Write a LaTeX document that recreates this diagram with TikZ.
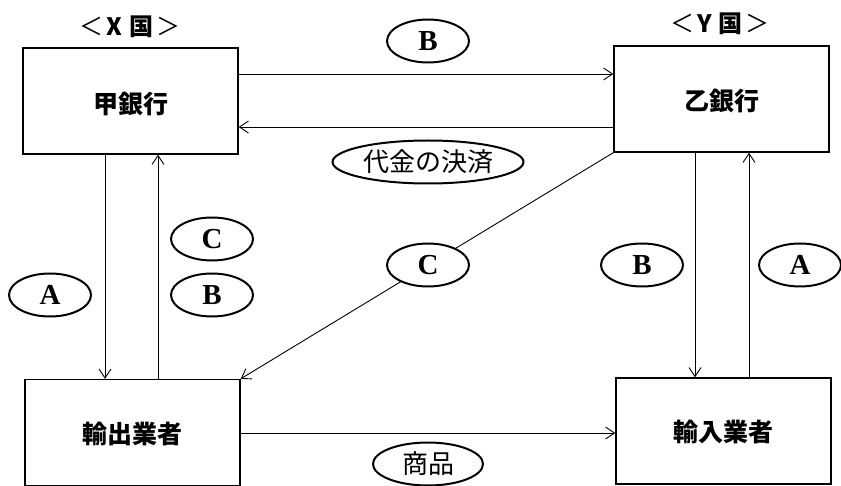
\documentclass[tikz,border=0pt]{standalone}
\usepackage{fontspec}
\usetikzlibrary{arrows.meta,shapes.geometric}
\newfontfamily\gothic{Noto Sans CJK JP}
\newfontfamily\mincho{Noto Sans CJK JP}
\newfontfamily\serifL{Liberation Serif}
\tikzset{
  box/.style={draw, line width=1.3pt, minimum width=215pt, minimum height=106pt, inner sep=0pt},
  boxtext/.style={font=\gothic\bfseries\fontsize{25}{25}\selectfont},
  oval/.style={draw, ellipse, line width=2pt, fill=white, inner sep=0pt},
  letteroval/.style={oval, minimum width=82pt, minimum height=43pt, font=\serifL\bfseries\fontsize{29}{29}\selectfont},
  wordoval/.style={oval, minimum height=43pt, font=\mincho\fontsize{26}{26}\selectfont},
  conn/.style={line width=0.9pt},
  arr/.style={conn, -{Straight Barb[length=9pt,width=12pt]}},
  country/.style={font=\gothic\fontsize{24}{24}\selectfont}
}
\begin{document}
\begin{tikzpicture}[x=1pt,y=-1pt]
\useasboundingbox (0,0) rectangle (841,486);
\fill[white] (0,0) rectangle (841,486);
% boxes
\node[box] (jia) at (130.5,101) {};
\node[boxtext] (jiat) at (130.5,104) {甲銀行};
\node[box] (yi) at (721.5,99) {};
\node[boxtext] (yit) at (721.5,101) {乙銀行};
\node[box] (exp) at (132.5,432.5) {};
\node[boxtext] (expt) at (132.5,434) {輸出業者};
\node[box] (imp) at (723.5,431) {};
\node[boxtext] (impt) at (723.5,432) {輸入業者};
% country labels
\node[country] (xc) at (130,27) {＜\hspace{3pt}\textbf{X}\hspace{7pt}\textbf{国}\hspace{3pt}＞};
\node[country] (yc) at (720,24) {＜\hspace{3pt}\textbf{Y}\hspace{7pt}\textbf{国}\hspace{3pt}＞};
% helper coordinates
\coordinate (ytop) at (0,74);
\coordinate (ybot) at (0,127);
\coordinate (ygoods) at (0,433);
\coordinate (xa) at (105,0);
\coordinate (xb) at (158,0);
\coordinate (xc2) at (695,0);
\coordinate (xd) at (749,0);
% connectors
\draw[arr] (jia.east |- ytop) -- (yi.west |- ytop);
\draw[arr] (yi.west |- ybot) -- (jia.east |- ybot);
\draw[arr] (jia.south -| xa) -- (exp.north -| xa);
\draw[arr] (exp.north -| xb) -- (jia.south -| xb);
\draw[arr] (yi.south -| xc2) -- (imp.north -| xc2);
\draw[arr] (imp.north -| xd) -- (yi.south -| xd);
\draw[arr] (exp.east |- ygoods) -- (imp.west |- ygoods);
\draw[arr] (yi.south west) -- (exp.north east);
% labels
\node[letteroval] (lb1) at (428,41) {B};
\node[wordoval, minimum width=191pt] (lpay) at (428,162) {代金の決済};
\node[letteroval] (lc1) at (212,239) {C};
\node[letteroval] (lb2) at (212,295) {B};
\node[letteroval] (la1) at (50,295) {A};
\node[letteroval] (lc2) at (428,265) {C};
\node[letteroval] (lb3) at (642,265) {B};
\node[letteroval] (la2) at (800,265) {A};
\node[wordoval, minimum width=110pt] (lgoods) at (428,464) {商品};
\end{tikzpicture}
\end{document}
